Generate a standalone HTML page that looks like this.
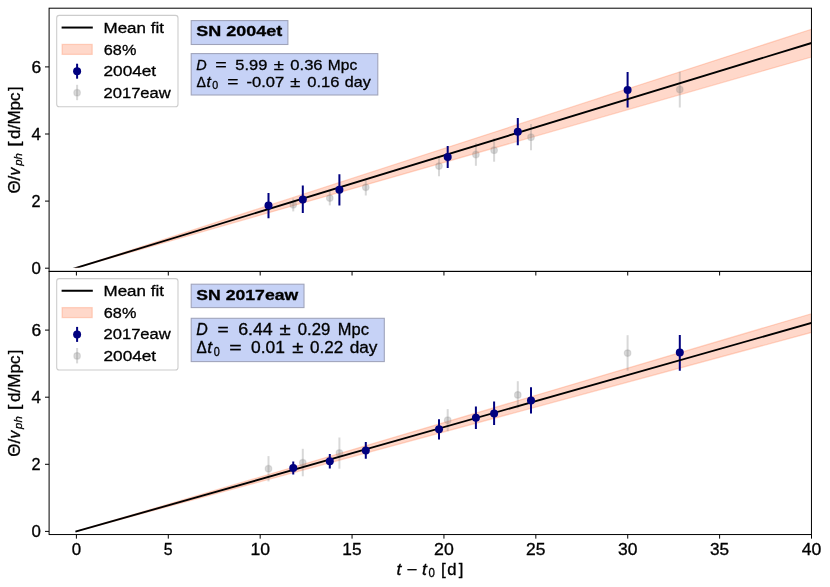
<!DOCTYPE html>
<html><head><meta charset="utf-8"><title>chart</title>
<style>
html,body{margin:0;padding:0;background:#fff;}
body{width:830px;height:587px;overflow:hidden;font-family:"Liberation Sans",sans-serif;}
svg{display:block;will-change:transform;opacity:0.9999;}
text{font-family:"Liberation Sans",sans-serif;fill:#000;stroke:#000;stroke-width:0.3px;}
</style></head><body>
<svg width="830" height="587" viewBox="0 0 830 587">
<rect x="0" y="0" width="830" height="587" fill="#fff"/>
<defs>
<clipPath id="c1"><rect x="49.1" y="8.2" width="762.35" height="263.2"/></clipPath>
<clipPath id="c1b"><rect x="49.1" y="8.2" width="762.35" height="259.5"/></clipPath>
<clipPath id="c2"><rect x="49.1" y="271.4" width="762.35" height="263.15"/></clipPath>
</defs>

<g clip-path="url(#c1)">
<polygon points="75.2,268.2 811.5,29.2 811.5,57.0" fill="rgba(255,127,80,0.3)"/><polygon points="75.2,268.2 811.5,29.2 811.5,57.0" fill="none" stroke="rgba(255,127,80,0.3)" stroke-width="1.25"/>
<line x1="293.25" y1="198.4" x2="293.25" y2="211.4" stroke="#808080" stroke-width="2.0" opacity="0.3"/>
<line x1="329.8" y1="190.9" x2="329.8" y2="205.4" stroke="#808080" stroke-width="2.0" opacity="0.3"/>
<line x1="365.8" y1="178.8" x2="365.8" y2="195.5" stroke="#808080" stroke-width="2.0" opacity="0.3"/>
<line x1="439.0" y1="156.0" x2="439.0" y2="176.2" stroke="#808080" stroke-width="2.0" opacity="0.3"/>
<line x1="475.9" y1="143.2" x2="475.9" y2="165.8" stroke="#808080" stroke-width="2.0" opacity="0.3"/>
<line x1="494.1" y1="138.3" x2="494.1" y2="161.7" stroke="#808080" stroke-width="2.0" opacity="0.3"/>
<line x1="531.0" y1="124.1" x2="531.0" y2="150.2" stroke="#808080" stroke-width="2.0" opacity="0.3"/>
<line x1="679.8" y1="71.7" x2="679.8" y2="107.5" stroke="#808080" stroke-width="2.0" opacity="0.3"/>
<circle cx="293.25" cy="204.8" r="3.3" fill="#808080" opacity="0.3"/>
<circle cx="293.25" cy="204.8" r="3.3" fill="none" stroke="#808080" stroke-width="1.2" opacity="0.2"/>
<circle cx="329.8" cy="198.1" r="3.3" fill="#808080" opacity="0.3"/>
<circle cx="329.8" cy="198.1" r="3.3" fill="none" stroke="#808080" stroke-width="1.2" opacity="0.2"/>
<circle cx="365.8" cy="187.3" r="3.3" fill="#808080" opacity="0.3"/>
<circle cx="365.8" cy="187.3" r="3.3" fill="none" stroke="#808080" stroke-width="1.2" opacity="0.2"/>
<circle cx="439.0" cy="166.1" r="3.3" fill="#808080" opacity="0.3"/>
<circle cx="439.0" cy="166.1" r="3.3" fill="none" stroke="#808080" stroke-width="1.2" opacity="0.2"/>
<circle cx="475.9" cy="154.5" r="3.3" fill="#808080" opacity="0.3"/>
<circle cx="475.9" cy="154.5" r="3.3" fill="none" stroke="#808080" stroke-width="1.2" opacity="0.2"/>
<circle cx="494.1" cy="150.2" r="3.3" fill="#808080" opacity="0.3"/>
<circle cx="494.1" cy="150.2" r="3.3" fill="none" stroke="#808080" stroke-width="1.2" opacity="0.2"/>
<circle cx="531.0" cy="137.2" r="3.3" fill="#808080" opacity="0.3"/>
<circle cx="531.0" cy="137.2" r="3.3" fill="none" stroke="#808080" stroke-width="1.2" opacity="0.2"/>
<circle cx="679.8" cy="89.5" r="3.3" fill="#808080" opacity="0.3"/>
<circle cx="679.8" cy="89.5" r="3.3" fill="none" stroke="#808080" stroke-width="1.2" opacity="0.2"/>
<line x1="268.5" y1="192.9" x2="268.5" y2="218.2" stroke="#00007f" stroke-width="2.0"/>
<line x1="302.8" y1="185.6" x2="302.8" y2="213.1" stroke="#00007f" stroke-width="2.0"/>
<line x1="339.4" y1="174.3" x2="339.4" y2="205.5" stroke="#00007f" stroke-width="2.0"/>
<line x1="447.7" y1="145.9" x2="447.7" y2="168.0" stroke="#00007f" stroke-width="2.0"/>
<line x1="517.8" y1="118.0" x2="517.8" y2="145.2" stroke="#00007f" stroke-width="2.0"/>
<line x1="627.6" y1="72.0" x2="627.6" y2="107.5" stroke="#00007f" stroke-width="2.0"/>
<line x1="68.56" y1="270.2" x2="811.5" y2="43.0" stroke="#000" stroke-width="1.85" clip-path="url(#c1b)"/>
<circle cx="268.5" cy="205.5" r="4.0" fill="#00007f"/>
<circle cx="302.8" cy="199.5" r="4.0" fill="#00007f"/>
<circle cx="339.4" cy="189.8" r="4.0" fill="#00007f"/>
<circle cx="447.7" cy="157.0" r="4.0" fill="#00007f"/>
<circle cx="517.8" cy="131.7" r="4.0" fill="#00007f"/>
<circle cx="627.6" cy="89.9" r="4.0" fill="#00007f"/>
</g>
<g clip-path="url(#c2)">
<polygon points="76.3,531.4 811.5,313.7 811.5,332.4" fill="rgba(255,127,80,0.3)"/><polygon points="76.3,531.4 811.5,313.7 811.5,332.4" fill="none" stroke="rgba(255,127,80,0.3)" stroke-width="1.25"/>
<line x1="268.5" y1="456.1" x2="268.5" y2="481.4" stroke="#808080" stroke-width="2.0" opacity="0.3"/>
<line x1="302.8" y1="448.8" x2="302.8" y2="476.3" stroke="#808080" stroke-width="2.0" opacity="0.3"/>
<line x1="339.4" y1="437.5" x2="339.4" y2="468.7" stroke="#808080" stroke-width="2.0" opacity="0.3"/>
<line x1="447.7" y1="409.1" x2="447.7" y2="431.2" stroke="#808080" stroke-width="2.0" opacity="0.3"/>
<line x1="517.8" y1="381.2" x2="517.8" y2="408.4" stroke="#808080" stroke-width="2.0" opacity="0.3"/>
<line x1="627.6" y1="335.2" x2="627.6" y2="370.7" stroke="#808080" stroke-width="2.0" opacity="0.3"/>
<circle cx="268.5" cy="468.7" r="3.3" fill="#808080" opacity="0.3"/>
<circle cx="268.5" cy="468.7" r="3.3" fill="none" stroke="#808080" stroke-width="1.2" opacity="0.2"/>
<circle cx="302.8" cy="462.7" r="3.3" fill="#808080" opacity="0.3"/>
<circle cx="302.8" cy="462.7" r="3.3" fill="none" stroke="#808080" stroke-width="1.2" opacity="0.2"/>
<circle cx="339.4" cy="453.0" r="3.3" fill="#808080" opacity="0.3"/>
<circle cx="339.4" cy="453.0" r="3.3" fill="none" stroke="#808080" stroke-width="1.2" opacity="0.2"/>
<circle cx="447.7" cy="420.2" r="3.3" fill="#808080" opacity="0.3"/>
<circle cx="447.7" cy="420.2" r="3.3" fill="none" stroke="#808080" stroke-width="1.2" opacity="0.2"/>
<circle cx="517.8" cy="394.9" r="3.3" fill="#808080" opacity="0.3"/>
<circle cx="517.8" cy="394.9" r="3.3" fill="none" stroke="#808080" stroke-width="1.2" opacity="0.2"/>
<circle cx="627.6" cy="353.1" r="3.3" fill="#808080" opacity="0.3"/>
<circle cx="627.6" cy="353.1" r="3.3" fill="none" stroke="#808080" stroke-width="1.2" opacity="0.2"/>
<line x1="293.25" y1="461.6" x2="293.25" y2="474.6" stroke="#00007f" stroke-width="2.0"/>
<line x1="329.8" y1="454.1" x2="329.8" y2="468.6" stroke="#00007f" stroke-width="2.0"/>
<line x1="365.8" y1="442.0" x2="365.8" y2="458.7" stroke="#00007f" stroke-width="2.0"/>
<line x1="439.0" y1="419.2" x2="439.0" y2="439.4" stroke="#00007f" stroke-width="2.0"/>
<line x1="475.9" y1="406.4" x2="475.9" y2="429.0" stroke="#00007f" stroke-width="2.0"/>
<line x1="494.1" y1="401.5" x2="494.1" y2="424.9" stroke="#00007f" stroke-width="2.0"/>
<line x1="531.0" y1="387.3" x2="531.0" y2="413.4" stroke="#00007f" stroke-width="2.0"/>
<line x1="679.8" y1="334.9" x2="679.8" y2="370.7" stroke="#00007f" stroke-width="2.0"/>
<line x1="76.3" y1="531.4" x2="811.5" y2="322.9" stroke="#000" stroke-width="1.85" stroke-linecap="square"/>
<circle cx="293.25" cy="467.9" r="4.0" fill="#00007f"/>
<circle cx="329.8" cy="461.3" r="4.0" fill="#00007f"/>
<circle cx="365.8" cy="450.5" r="4.0" fill="#00007f"/>
<circle cx="439.0" cy="429.3" r="4.0" fill="#00007f"/>
<circle cx="475.9" cy="417.7" r="4.0" fill="#00007f"/>
<circle cx="494.1" cy="413.4" r="4.0" fill="#00007f"/>
<circle cx="531.0" cy="400.4" r="4.0" fill="#00007f"/>
<circle cx="679.8" cy="352.6" r="4.0" fill="#00007f"/>
</g>
<rect x="49.1" y="8.2" width="762.35" height="263.20" fill="none" stroke="#000" stroke-width="1.0"/>
<rect x="49.1" y="271.4" width="762.35" height="263.15" fill="none" stroke="#000" stroke-width="1.0"/>
<line x1="76.40" y1="271.4" x2="76.40" y2="275.5" stroke="#000" stroke-width="1.0"/>
<line x1="76.40" y1="534.55" x2="76.40" y2="538.65" stroke="#000" stroke-width="1.0"/>
<text x="71.71" y="554.85" font-size="15.7" font-weight="normal" font-style="normal" textLength="9.38" lengthAdjust="spacingAndGlyphs">0</text>
<line x1="168.29" y1="271.4" x2="168.29" y2="275.5" stroke="#000" stroke-width="1.0"/>
<line x1="168.29" y1="534.55" x2="168.29" y2="538.65" stroke="#000" stroke-width="1.0"/>
<text x="163.79" y="554.85" font-size="15.7" font-weight="normal" font-style="normal" textLength="8.85" lengthAdjust="spacingAndGlyphs">5</text>
<line x1="260.18" y1="271.4" x2="260.18" y2="275.5" stroke="#000" stroke-width="1.0"/>
<line x1="260.18" y1="534.55" x2="260.18" y2="538.65" stroke="#000" stroke-width="1.0"/>
<text x="250.41" y="554.85" font-size="15.7" font-weight="normal" font-style="normal" textLength="19.57" lengthAdjust="spacingAndGlyphs">10</text>
<line x1="352.06" y1="271.4" x2="352.06" y2="275.5" stroke="#000" stroke-width="1.0"/>
<line x1="352.06" y1="534.55" x2="352.06" y2="538.65" stroke="#000" stroke-width="1.0"/>
<text x="342.32" y="554.85" font-size="15.7" font-weight="normal" font-style="normal" textLength="19.25" lengthAdjust="spacingAndGlyphs">15</text>
<line x1="443.95" y1="271.4" x2="443.95" y2="275.5" stroke="#000" stroke-width="1.0"/>
<line x1="443.95" y1="534.55" x2="443.95" y2="538.65" stroke="#000" stroke-width="1.0"/>
<text x="434.05" y="554.85" font-size="15.7" font-weight="normal" font-style="normal" textLength="19.71" lengthAdjust="spacingAndGlyphs">20</text>
<line x1="535.84" y1="271.4" x2="535.84" y2="275.5" stroke="#000" stroke-width="1.0"/>
<line x1="535.84" y1="534.55" x2="535.84" y2="538.65" stroke="#000" stroke-width="1.0"/>
<text x="525.95" y="554.85" font-size="15.7" font-weight="normal" font-style="normal" textLength="19.40" lengthAdjust="spacingAndGlyphs">25</text>
<line x1="627.73" y1="271.4" x2="627.73" y2="275.5" stroke="#000" stroke-width="1.0"/>
<line x1="627.73" y1="534.55" x2="627.73" y2="538.65" stroke="#000" stroke-width="1.0"/>
<text x="618.10" y="554.85" font-size="15.7" font-weight="normal" font-style="normal" textLength="19.43" lengthAdjust="spacingAndGlyphs">30</text>
<line x1="719.61" y1="271.4" x2="719.61" y2="275.5" stroke="#000" stroke-width="1.0"/>
<line x1="719.61" y1="534.55" x2="719.61" y2="538.65" stroke="#000" stroke-width="1.0"/>
<text x="710.00" y="554.85" font-size="15.7" font-weight="normal" font-style="normal" textLength="19.12" lengthAdjust="spacingAndGlyphs">35</text>
<line x1="811.50" y1="271.4" x2="811.50" y2="275.5" stroke="#000" stroke-width="1.0"/>
<line x1="811.50" y1="534.55" x2="811.50" y2="538.65" stroke="#000" stroke-width="1.0"/>
<text x="801.70" y="554.85" font-size="15.7" font-weight="normal" font-style="normal" textLength="19.61" lengthAdjust="spacingAndGlyphs">40</text>
<line x1="45.0" y1="268.20" x2="49.1" y2="268.20" stroke="#000" stroke-width="1.0"/>
<text x="31.62" y="274.05" font-size="15.7" font-weight="normal" font-style="normal" textLength="9.38" lengthAdjust="spacingAndGlyphs">0</text>
<line x1="45.0" y1="531.40" x2="49.1" y2="531.40" stroke="#000" stroke-width="1.0"/>
<text x="31.62" y="537.25" font-size="15.7" font-weight="normal" font-style="normal" textLength="9.38" lengthAdjust="spacingAndGlyphs">0</text>
<line x1="45.0" y1="201.10" x2="49.1" y2="201.10" stroke="#000" stroke-width="1.0"/>
<text x="31.57" y="206.95" font-size="15.7" font-weight="normal" font-style="normal" textLength="9.04" lengthAdjust="spacingAndGlyphs">2</text>
<line x1="45.0" y1="464.30" x2="49.1" y2="464.30" stroke="#000" stroke-width="1.0"/>
<text x="31.57" y="470.15" font-size="15.7" font-weight="normal" font-style="normal" textLength="9.04" lengthAdjust="spacingAndGlyphs">2</text>
<line x1="45.0" y1="134.00" x2="49.1" y2="134.00" stroke="#000" stroke-width="1.0"/>
<text x="31.61" y="139.85" font-size="15.7" font-weight="normal" font-style="normal" textLength="9.38" lengthAdjust="spacingAndGlyphs">4</text>
<line x1="45.0" y1="397.20" x2="49.1" y2="397.20" stroke="#000" stroke-width="1.0"/>
<text x="31.61" y="403.05" font-size="15.7" font-weight="normal" font-style="normal" textLength="9.38" lengthAdjust="spacingAndGlyphs">4</text>
<line x1="45.0" y1="66.90" x2="49.1" y2="66.90" stroke="#000" stroke-width="1.0"/>
<text x="31.45" y="72.75" font-size="15.7" font-weight="normal" font-style="normal" textLength="9.71" lengthAdjust="spacingAndGlyphs">6</text>
<line x1="45.0" y1="330.10" x2="49.1" y2="330.10" stroke="#000" stroke-width="1.0"/>
<text x="31.45" y="335.95" font-size="15.7" font-weight="normal" font-style="normal" textLength="9.71" lengthAdjust="spacingAndGlyphs">6</text>
<text x="396.45" y="574.80" font-size="15.7" font-weight="normal" font-style="italic" textLength="4.89" lengthAdjust="spacingAndGlyphs">t</text>
<text x="406.55" y="574.80" font-size="15.7" font-weight="normal" font-style="normal" textLength="10.70" lengthAdjust="spacingAndGlyphs">−</text>
<text x="421.95" y="574.80" font-size="15.7" font-weight="normal" font-style="italic" textLength="4.89" lengthAdjust="spacingAndGlyphs">t</text>
<text x="428.50" y="577.30" font-size="12.0" font-weight="normal" font-style="normal" textLength="6.40" lengthAdjust="spacingAndGlyphs">0</text>
<text x="441.13" y="574.80" font-size="15.7" font-weight="normal" font-style="normal" textLength="4.75" lengthAdjust="spacingAndGlyphs">[</text>
<text x="447.25" y="574.80" font-size="15.7" font-weight="normal" font-style="normal" textLength="9.28" lengthAdjust="spacingAndGlyphs">d</text>
<text x="458.82" y="574.80" font-size="15.7" font-weight="normal" font-style="normal" textLength="4.61" lengthAdjust="spacingAndGlyphs">]</text>
<g transform="translate(20.0,193.1) rotate(-90)">
<text x="-0.45" y="0.00" font-size="15.7" font-weight="normal" font-style="normal" textLength="17.80" lengthAdjust="spacingAndGlyphs">Θ/</text>
<text x="17.71" y="0.00" font-size="15.7" font-weight="normal" font-style="italic" textLength="7.71" lengthAdjust="spacingAndGlyphs">v</text>
<text x="27.43" y="2.30" font-size="11.4" font-weight="normal" font-style="italic" textLength="12.54" lengthAdjust="spacingAndGlyphs">ph</text>
<text x="46.29" y="0.00" font-size="15.7" font-weight="normal" font-style="normal" textLength="5.31" lengthAdjust="spacingAndGlyphs">[</text>
<text x="54.23" y="0.00" font-size="15.7" font-weight="normal" font-style="normal" textLength="46.57" lengthAdjust="spacingAndGlyphs">d/Mpc</text>
<text x="102.02" y="0.00" font-size="15.7" font-weight="normal" font-style="normal" textLength="4.47" lengthAdjust="spacingAndGlyphs">]</text>
</g>
<g transform="translate(20.0,456.3) rotate(-90)">
<text x="-0.45" y="0.00" font-size="15.7" font-weight="normal" font-style="normal" textLength="17.80" lengthAdjust="spacingAndGlyphs">Θ/</text>
<text x="17.71" y="0.00" font-size="15.7" font-weight="normal" font-style="italic" textLength="7.71" lengthAdjust="spacingAndGlyphs">v</text>
<text x="27.43" y="2.30" font-size="11.4" font-weight="normal" font-style="italic" textLength="12.54" lengthAdjust="spacingAndGlyphs">ph</text>
<text x="46.29" y="0.00" font-size="15.7" font-weight="normal" font-style="normal" textLength="5.31" lengthAdjust="spacingAndGlyphs">[</text>
<text x="54.23" y="0.00" font-size="15.7" font-weight="normal" font-style="normal" textLength="46.57" lengthAdjust="spacingAndGlyphs">d/Mpc</text>
<text x="102.02" y="0.00" font-size="15.7" font-weight="normal" font-style="normal" textLength="4.47" lengthAdjust="spacingAndGlyphs">]</text>
</g>
<rect x="56.7" y="15.4" width="121.3" height="91.4" rx="2.6" fill="#fff" fill-opacity="0.8" stroke="#cccccc" stroke-width="1.07"/>
<line x1="62.6" y1="27.55" x2="91.8" y2="27.55" stroke="#000" stroke-width="2" stroke-linecap="square"/>
<rect x="62.1" y="44.4" width="30.1" height="10.0" fill="rgba(255,127,80,0.3)"/>
<rect x="62.1" y="44.4" width="30.1" height="10.0" fill="none" stroke="rgba(255,127,80,0.3)" stroke-width="1.25"/>
<line x1="77.1" y1="63.7" x2="77.1" y2="78.7" stroke="#00007f" stroke-width="2"/>
<circle cx="77.1" cy="71.2" r="4" fill="#00007f"/>
<line x1="77.1" y1="84.8" x2="77.1" y2="100.2" stroke="#808080" stroke-width="2.0" opacity="0.3"/>
<circle cx="77.1" cy="92.7" r="3.3" fill="#808080" opacity="0.3"/>
<circle cx="77.1" cy="92.7" r="3.3" fill="none" stroke="#808080" stroke-width="1.2" opacity="0.2"/>
<text x="103.56" y="32.50" font-size="14.9" font-weight="normal" font-style="normal" textLength="60.32" lengthAdjust="spacingAndGlyphs">Mean fit</text>
<text x="103.83" y="54.50" font-size="14.9" font-weight="normal" font-style="normal" textLength="32.50" lengthAdjust="spacingAndGlyphs">68%</text>
<text x="103.48" y="76.00" font-size="14.9" font-weight="normal" font-style="normal" textLength="52.69" lengthAdjust="spacingAndGlyphs">2004et</text>
<text x="103.52" y="97.70" font-size="14.9" font-weight="normal" font-style="normal" textLength="67.19" lengthAdjust="spacingAndGlyphs">2017eaw</text>
<rect x="56.7" y="278.59999999999997" width="121.3" height="91.4" rx="2.6" fill="#fff" fill-opacity="0.8" stroke="#cccccc" stroke-width="1.07"/>
<line x1="62.6" y1="290.75" x2="91.8" y2="290.75" stroke="#000" stroke-width="2" stroke-linecap="square"/>
<rect x="62.1" y="307.6" width="30.1" height="10.0" fill="rgba(255,127,80,0.3)"/>
<rect x="62.1" y="307.6" width="30.1" height="10.0" fill="none" stroke="rgba(255,127,80,0.3)" stroke-width="1.25"/>
<line x1="77.1" y1="326.9" x2="77.1" y2="341.9" stroke="#00007f" stroke-width="2"/>
<circle cx="77.1" cy="334.4" r="4" fill="#00007f"/>
<line x1="77.1" y1="348.0" x2="77.1" y2="363.4" stroke="#808080" stroke-width="2.0" opacity="0.3"/>
<circle cx="77.1" cy="355.9" r="3.3" fill="#808080" opacity="0.3"/>
<circle cx="77.1" cy="355.9" r="3.3" fill="none" stroke="#808080" stroke-width="1.2" opacity="0.2"/>
<text x="103.56" y="295.70" font-size="14.9" font-weight="normal" font-style="normal" textLength="60.32" lengthAdjust="spacingAndGlyphs">Mean fit</text>
<text x="103.83" y="317.70" font-size="14.9" font-weight="normal" font-style="normal" textLength="32.50" lengthAdjust="spacingAndGlyphs">68%</text>
<text x="103.52" y="339.20" font-size="14.9" font-weight="normal" font-style="normal" textLength="67.19" lengthAdjust="spacingAndGlyphs">2017eaw</text>
<text x="103.48" y="360.90" font-size="14.9" font-weight="normal" font-style="normal" textLength="52.69" lengthAdjust="spacingAndGlyphs">2004et</text>
<rect x="191.2" y="20.6" width="96.7" height="23.9" fill="#c6d2f6" stroke="#9fa3ba" stroke-width="1.07"/>
<text x="196.33" y="36.40" font-size="14.7" font-weight="bold" font-style="normal" textLength="86.04" lengthAdjust="spacingAndGlyphs" stroke-width="0.6">SN 2004et</text>
<rect x="191.2" y="53.6" width="186.6" height="41.4" fill="#c6d2f6" stroke="#9fa3ba" stroke-width="1.07"/>
<text x="196.31" y="69.60" font-size="14.6" font-weight="normal" font-style="italic" textLength="10.41" lengthAdjust="spacingAndGlyphs">D</text>
<text x="215.29" y="69.60" font-size="14.6" font-weight="normal" font-style="normal" textLength="11.54" lengthAdjust="spacingAndGlyphs">=</text>
<text x="235.39" y="69.60" font-size="14.6" font-weight="normal" font-style="normal" textLength="31.93" lengthAdjust="spacingAndGlyphs">5.99</text>
<text x="273.87" y="69.60" font-size="14.6" font-weight="normal" font-style="normal" textLength="10.05" lengthAdjust="spacingAndGlyphs">±</text>
<text x="290.30" y="69.60" font-size="14.6" font-weight="normal" font-style="normal" textLength="32.28" lengthAdjust="spacingAndGlyphs">0.36</text>
<text x="327.88" y="69.60" font-size="14.6" font-weight="normal" font-style="normal" textLength="29.28" lengthAdjust="spacingAndGlyphs">Mpc</text>
<text x="196.53" y="86.90" font-size="14.6" font-weight="normal" font-style="normal" textLength="9.45" lengthAdjust="spacingAndGlyphs">Δ</text>
<text x="206.44" y="86.90" font-size="14.6" font-weight="normal" font-style="italic" textLength="4.37" lengthAdjust="spacingAndGlyphs">t</text>
<text x="212.23" y="89.10" font-size="11.3" font-weight="normal" font-style="normal" textLength="5.93" lengthAdjust="spacingAndGlyphs">0</text>
<text x="227.22" y="86.90" font-size="14.6" font-weight="normal" font-style="normal" textLength="11.18" lengthAdjust="spacingAndGlyphs">=</text>
<text x="246.52" y="86.90" font-size="14.6" font-weight="normal" font-style="normal" textLength="37.67" lengthAdjust="spacingAndGlyphs">-0.07</text>
<text x="290.37" y="86.90" font-size="14.6" font-weight="normal" font-style="normal" textLength="10.05" lengthAdjust="spacingAndGlyphs">±</text>
<text x="307.20" y="86.90" font-size="14.6" font-weight="normal" font-style="normal" textLength="32.17" lengthAdjust="spacingAndGlyphs">0.16</text>
<text x="344.78" y="86.90" font-size="14.6" font-weight="normal" font-style="normal" textLength="25.91" lengthAdjust="spacingAndGlyphs">day</text>
<rect x="191.2" y="284.2" width="112.8" height="23.4" fill="#c6d2f6" stroke="#9fa3ba" stroke-width="1.07"/>
<text x="196.34" y="300.00" font-size="14.7" font-weight="bold" font-style="normal" textLength="101.87" lengthAdjust="spacingAndGlyphs" stroke-width="0.6">SN 2017eaw</text>
<rect x="191.2" y="318.3" width="193.1" height="43.3" fill="#c6d2f6" stroke="#9fa3ba" stroke-width="1.07"/>
<text x="196.26" y="334.70" font-size="15.8" font-weight="normal" font-style="italic" textLength="11.50" lengthAdjust="spacingAndGlyphs">D</text>
<text x="217.52" y="334.70" font-size="15.8" font-weight="normal" font-style="normal" textLength="11.18" lengthAdjust="spacingAndGlyphs">=</text>
<text x="238.15" y="334.70" font-size="15.8" font-weight="normal" font-style="normal" textLength="34.62" lengthAdjust="spacingAndGlyphs">6.44</text>
<text x="279.60" y="334.70" font-size="15.8" font-weight="normal" font-style="normal" textLength="11.18" lengthAdjust="spacingAndGlyphs">±</text>
<text x="297.70" y="334.70" font-size="15.8" font-weight="normal" font-style="normal" textLength="32.55" lengthAdjust="spacingAndGlyphs">0.29</text>
<text x="337.80" y="334.70" font-size="15.8" font-weight="normal" font-style="normal" textLength="31.08" lengthAdjust="spacingAndGlyphs">Mpc</text>
<text x="196.49" y="353.30" font-size="15.8" font-weight="normal" font-style="normal" textLength="10.22" lengthAdjust="spacingAndGlyphs">Δ</text>
<text x="207.15" y="353.30" font-size="15.8" font-weight="normal" font-style="italic" textLength="4.89" lengthAdjust="spacingAndGlyphs">t</text>
<text x="213.73" y="355.70" font-size="12.2" font-weight="normal" font-style="normal" textLength="6.05" lengthAdjust="spacingAndGlyphs">0</text>
<text x="229.31" y="353.30" font-size="15.8" font-weight="normal" font-style="normal" textLength="12.38" lengthAdjust="spacingAndGlyphs">=</text>
<text x="251.07" y="353.30" font-size="15.8" font-weight="normal" font-style="normal" textLength="33.93" lengthAdjust="spacingAndGlyphs">0.01</text>
<text x="292.21" y="353.30" font-size="15.8" font-weight="normal" font-style="normal" textLength="11.07" lengthAdjust="spacingAndGlyphs">±</text>
<text x="309.99" y="353.30" font-size="15.8" font-weight="normal" font-style="normal" textLength="33.12" lengthAdjust="spacingAndGlyphs">0.22</text>
<text x="349.73" y="353.30" font-size="15.8" font-weight="normal" font-style="normal" textLength="27.76" lengthAdjust="spacingAndGlyphs">day</text>
</svg></body></html>
